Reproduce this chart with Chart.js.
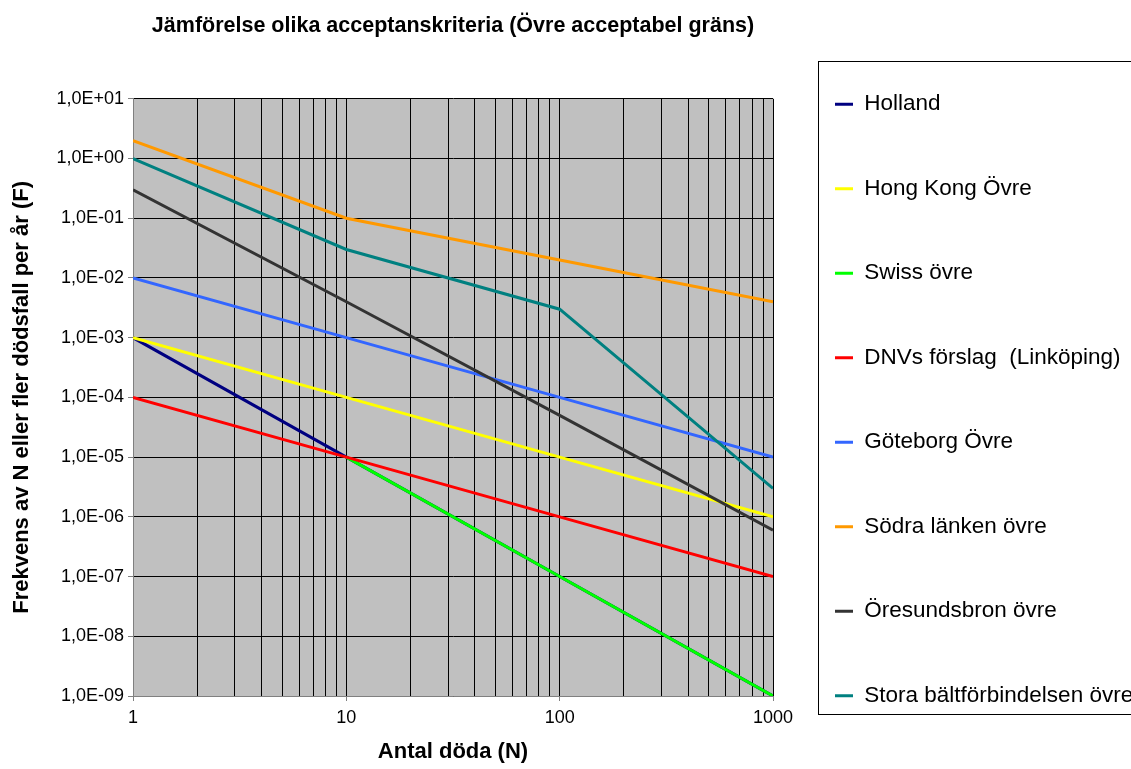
<!DOCTYPE html>
<html lang="sv">
<head>
<meta charset="utf-8">
<title>Jämförelse olika acceptanskriteria</title>
<script src="https://cdn.jsdelivr.net/npm/chart.js@4.4.1/dist/chart.umd.min.js"></script>
<style>
  html, body { margin: 0; padding: 0; background: #fff; }
  #chartWrap { width: 1131px; height: 769px; }
</style>
</head>
<body>
<div id="chartWrap"><canvas id="fnChart" width="1131" height="769"></canvas></div>
<script>
'use strict';

// DATA: antal döda (N) and the upper acceptable frequency F for each criterion
const antalDoda = [1, 10, 100, 1000];
const holland = [1e-3, 1e-5, 1e-7, 1e-9];
const hongKong = [1e-3, 1e-4, 1e-5, 1e-6];
const swiss = [null, 1e-5, 1e-7, 1e-9];
const dnv = [1e-4, 1e-5, 1e-6, 1e-7];
const goteborg = [1e-2, 1e-3, 1e-4, 1e-5];
const sodraLanken = [2, 1e-1, 2e-2, 4e-3];
const oresund = [3e-1, 4e-3, 5e-5, 6e-7];
const storaBalt = [1, 3e-2, 3e-3, 3e-6];

const seriesNames = ['Holland', 'Hong Kong Övre', 'Swiss övre', 'DNVs förslag  (Linköping)',
  'Göteborg Övre', 'Södra länken övre', 'Öresundsbron övre', 'Stora bältförbindelsen övre'];
const seriesValues = [holland, hongKong, swiss, dnv, goteborg, sodraLanken, oresund, storaBalt];
const seriesColors = ['#000080', '#FFFF00', '#00FF00', '#FF0000', '#3366FF', '#FF9900', '#333333', '#008080'];

// tick values: y only at whole decades, x gets 1..9 in every decade for the grid
const yTicks = [1e-9, 1e-8, 1e-7, 1e-6, 1e-5, 1e-4, 1e-3, 1e-2, 1e-1, 1e0, 1e1];
const xDecades = [1, 10, 100, 1000];

// helpers
let isDecade = (v) => Math.abs(Math.log10(v) - Math.round(Math.log10(v))) < 1e-9;
function sciLabel(v){
  let exp = Math.round(Math.log10(v));
  let sign = exp < 0 ? '-' : '+';
  let digits = String(Math.abs(exp)).padStart(2, '0');
  return `1,0E${sign}${digits}`;
}
function xGridTicks(){
  let out = [];
  for(let d = 0; d < xDecades.length - 1; ++d){
    for(let k = 1; k < 10; ++k){
      out.push({value: xDecades[d] * k});
    }
  }
  out.push({value: xDecades[xDecades.length - 1]});
  return out;
}

// build one line dataset per criterion
let datasets = seriesNames.map(function(name, i){
  return {
    label: name,
    data: antalDoda.map((n, j) => ({x: n, y: seriesValues[i][j]})),
    borderColor: seriesColors[i],
    backgroundColor: seriesColors[i],
    borderWidth: 3,
    pointRadius: 0,
    pointHoverRadius: 0,
    tension: 0,
    spanGaps: false,
    order: -i // later series drawn on top, like the original
  };
});

// PLUGIN: grey plot area
const plotBackground = {
  id: 'plotBackground',
  beforeDraw(chart){
    const {ctx, chartArea} = chart;
    ctx.save();
    ctx.fillStyle = '#C0C0C0';
    ctx.fillRect(chartArea.left, chartArea.top, chartArea.right - chartArea.left, chartArea.bottom - chartArea.top);
    ctx.restore();
  }
};

// PLUGIN: frame round the legend (runs off the right edge like the original)
const legendFrame = {
  id: 'legendFrame',
  afterDraw(chart){
    const {ctx, chartArea, legend} = chart;
    let left = Math.round(legend.left + 45) + 0.5;
    let top = Math.round(chartArea.top - 38) + 0.5;
    let bottom = Math.round(chartArea.bottom + 18) + 0.5;
    ctx.save();
    ctx.strokeStyle = '#000';
    ctx.lineWidth = 1;
    ctx.strokeRect(left, top, 600, bottom - top);
    ctx.restore();
  }
};

Chart.defaults.font.family = "'Liberation Sans', Arial, sans-serif";
Chart.defaults.color = '#000';

let ctx = document.getElementById('fnChart').getContext('2d');
/* eslint-disable-next-line no-unused-vars */ /* eslint-disable-next-line no-undef */
let fnChart = new Chart(ctx, {
  type: 'line',
  data: { datasets: datasets },
  plugins: [plotBackground, legendFrame],
  options: {
    responsive: false,
    devicePixelRatio: 1,
    animation: false,
    events: [],
    layout: { padding: 0 },
    scales: {
      x: {
        type: 'logarithmic',
        min: 1,
        max: 1000,
        afterBuildTicks(scale){ scale.ticks = xGridTicks(); },
        afterFit(scale){ scale.height = 73; },
        ticks: {
          autoSkip: false,
          maxRotation: 0,
          padding: 6,
          font: { size: 18 },
          callback: (v) => isDecade(v) ? String(Math.round(v)) : ''
        },
        grid: {
          color: '#000',
          lineWidth: 1,
          tickLength: 5,
          tickColor: (c) => (c.tick && isDecade(c.tick.value)) ? '#808080' : 'rgba(0,0,0,0)'
        },
        border: { color: '#808080', width: 1 },
        title: {
          display: true,
          text: 'Antal döda (N)',
          font: { size: 22, weight: 'bold' },
          padding: { top: 0, bottom: 4 }
        }
      },
      y: {
        type: 'logarithmic',
        min: 1e-9,
        max: 10,
        afterBuildTicks(scale){ scale.ticks = yTicks.map(v => ({value: v})); },
        afterFit(scale){ scale.width = 133; },
        ticks: {
          autoSkip: false,
          padding: 4,
          font: { size: 18 },
          callback: (v) => sciLabel(v)
        },
        grid: { color: '#000', lineWidth: 1, tickLength: 5, tickColor: '#808080' },
        border: { color: '#808080', width: 1 },
        title: {
          display: true,
          text: 'Frekvens av N eller fler dödsfall per år (F)',
          font: { size: 22, weight: 'bold' },
          padding: { top: 9, bottom: 0 }
        }
      }
    },
    plugins: {
      title: {
        display: true,
        fullSize: false,
        text: 'Jämförelse olika acceptanskriteria (Övre acceptabel gräns)',
        font: { size: 21.5, weight: 'bold' },
        padding: { top: 13, bottom: 60 }
      },
      legend: {
        position: 'right',
        align: 'end',
        maxWidth: 358,
        labels: {
          usePointStyle: true,
          pointStyle: 'line',
          pointStyleWidth: 18,
          boxWidth: 18,
          padding: 62,
          font: { size: 22.5 },
          sort: (a, b) => a.datasetIndex - b.datasetIndex
        }
      },
      tooltip: { enabled: false }
    }
  }
});
</script>
</body>
</html>
